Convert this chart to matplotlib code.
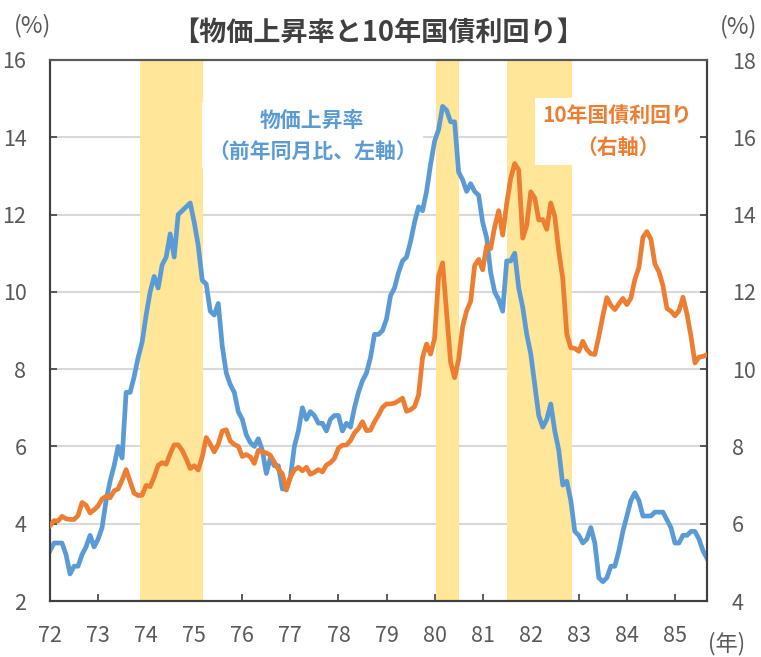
import matplotlib.pyplot as plt
import numpy as np

plt.rcParams["font.family"] = ["Noto Sans CJK JP", "DejaVu Sans"]

# monthly data, Jan 1972 - Sep 1985
cpi = [
    3.3, 3.5, 3.5, 3.5, 3.2, 2.7, 2.9, 2.9, 3.2, 3.4, 3.7, 3.4,        # 72
    3.6, 3.9, 4.6, 5.1, 5.5, 6.0, 5.7, 7.4, 7.4, 7.8, 8.3, 8.7,        # 73
    9.4, 10.0, 10.4, 10.1, 10.7, 10.9, 11.5, 10.9, 12.0, 12.1, 12.2, 12.3,  # 74
    11.8, 11.2, 10.3, 10.2, 9.5, 9.4, 9.7, 8.6, 7.9, 7.6, 7.4, 6.9,    # 75
    6.7, 6.3, 6.1, 6.0, 6.2, 5.9, 5.3, 5.7, 5.5, 5.5, 4.9, 4.9,        # 76
    5.2, 6.0, 6.4, 7.0, 6.7, 6.9, 6.8, 6.6, 6.6, 6.4, 6.7, 6.8,        # 77
    6.8, 6.4, 6.6, 6.5, 7.0, 7.4, 7.7, 7.9, 8.3, 8.9, 8.9, 9.0,        # 78
    9.3, 9.9, 10.1, 10.5, 10.8, 10.9, 11.3, 11.8, 12.2, 12.1, 12.6, 13.3,  # 79
    13.9, 14.2, 14.8, 14.7, 14.4, 14.4, 13.1, 12.9, 12.6, 12.8, 12.6, 12.5,  # 80
    11.8, 11.4, 10.5, 10.0, 9.8, 9.5, 10.8, 10.8, 11.0, 10.1, 9.6, 8.9,  # 81
    8.4, 7.6, 6.8, 6.5, 6.7, 7.1, 6.4, 5.9, 5.0, 5.1, 4.6, 3.8,        # 82
    3.7, 3.5, 3.6, 3.9, 3.5, 2.6, 2.5, 2.6, 2.9, 2.9, 3.3, 3.8,        # 83
    4.2, 4.6, 4.8, 4.6, 4.2, 4.2, 4.2, 4.3, 4.3, 4.3, 4.1, 3.9,        # 84
    3.5, 3.5, 3.7, 3.7, 3.8, 3.8, 3.6, 3.3, 3.1,                      # 85
]

bond10y = [
    5.95, 6.08, 6.07, 6.19, 6.13, 6.11, 6.11, 6.21, 6.55, 6.48, 6.28, 6.36,
    6.46, 6.64, 6.71, 6.67, 6.85, 6.90, 7.13, 7.40, 7.09, 6.79, 6.73, 6.74,
    6.99, 6.96, 7.21, 7.51, 7.58, 7.54, 7.81, 8.04, 8.04, 7.90, 7.68, 7.43,
    7.50, 7.39, 7.73, 8.23, 8.06, 7.86, 8.06, 8.40, 8.43, 8.14, 8.05, 8.00,
    7.74, 7.79, 7.73, 7.56, 7.90, 7.86, 7.83, 7.77, 7.59, 7.41, 7.29, 6.87,
    7.21, 7.39, 7.46, 7.37, 7.46, 7.28, 7.33, 7.40, 7.34, 7.52, 7.58, 7.69,
    7.96, 8.03, 8.04, 8.15, 8.35, 8.46, 8.64, 8.41, 8.42, 8.64, 8.81, 9.01,
    9.10, 9.10, 9.12, 9.18, 9.25, 8.91, 8.95, 9.03, 9.33, 10.30, 10.65, 10.39,
    10.80, 12.41, 12.75, 11.47, 10.18, 9.78, 10.25, 11.10, 11.51, 11.75, 12.68, 12.84,
    12.57, 13.19, 13.12, 13.68, 14.10, 13.47, 14.28, 14.94, 15.32, 15.15, 13.39, 13.72,
    14.59, 14.43, 13.86, 13.87, 13.62, 14.30, 13.95, 13.06, 12.34, 10.91, 10.55, 10.54,
    10.46, 10.72, 10.51, 10.40, 10.38, 10.85, 11.38, 11.85, 11.65, 11.54, 11.69, 11.83,
    11.67, 11.84, 12.32, 12.63, 13.41, 13.56, 13.36, 12.72, 12.52, 12.16, 11.57, 11.50,
    11.38, 11.51, 11.86, 11.43, 10.85, 10.16, 10.31, 10.33, 10.37,
]

# recession periods (shaded)
recessions = [(73.87, 75.18), (80.02, 80.5), (81.5, 82.85)]
year_labels = [str(y) for y in range(72, 86)]

blue = "#5B9BD5"
orange = "#ED7D31"
gray = "#595959"

x = 72 + np.arange(len(cpi)) / 12

fig = plt.figure(figsize=(7.61, 6.57), dpi=100)
ax = fig.add_axes([50 / 761, 1 - 601 / 657, 657 / 761, 541 / 657])
ax2 = ax.twinx()

ax.set_axisbelow(True)
ax.grid(axis="y", color="#D9D9D9", linewidth=1.5)
for a, b in recessions:
    ax.axvspan(a, b, color="#FFE699", lw=0, zorder=1)

ax.plot(x, cpi, color=blue, lw=3.4, zorder=4, solid_joinstyle="round")
ax2.plot(x, bond10y, color=orange, lw=3.4, zorder=4, solid_joinstyle="round")

ax.set_xlim(72, x[-1])
ax.set_ylim(2, 16)
ax2.set_ylim(4, 18)
ax.set_yticks(np.arange(2, 17, 2))
ax2.set_yticks(np.arange(4, 19, 2))
ax.set_xticks(np.arange(72, 86))
ax.set_xticklabels(year_labels)

for a in (ax, ax2):
    for s in a.spines.values():
        s.set_color("#404040")
        s.set_linewidth(1.5)
    a.spines["top"].set_color(gray)
    a.tick_params(direction="in", length=5, width=1.2, color="#404040",
                  labelcolor=gray, labelsize=15.5)
ax.tick_params(axis="y", pad=17)
ax2.tick_params(axis="y", pad=18)
ax.tick_params(axis="x", pad=17)

ax.text(0.399, 0.86, "物価上昇率\n（前年同月比、左軸）", transform=ax.transAxes,
        ha="center", va="center", color=blue, fontsize=15, fontweight="bold",
        linespacing=1.6, zorder=3,
        bbox=dict(boxstyle="square,pad=0.3", facecolor="white", edgecolor="none"))
ax.text(0.864, 0.868, "10年国債利回り\n（右軸）", transform=ax.transAxes,
        ha="center", va="center", color=orange, fontsize=15, fontweight="bold",
        linespacing=1.6, zorder=3,
        bbox=dict(boxstyle="square,pad=0.35", facecolor="white", edgecolor="none"))

fig.text(378 / 761, 1 - 33 / 657, "【物価上昇率と10年国債利回り】", ha="center",
         va="center", fontsize=19.5, fontweight="bold", color="#404040")
fig.text(33 / 761, 1 - 26 / 657, "(%)", ha="center", va="center",
         fontsize=17, color=gray)
fig.text(739 / 761, 1 - 27 / 657, "(%)", ha="center", va="center",
         fontsize=17, color=gray)
fig.text(727 / 761, 1 - 644 / 657, "(年)", ha="center", va="center",
         fontsize=16, color=gray)

fig.savefig("out.png", dpi=100)
